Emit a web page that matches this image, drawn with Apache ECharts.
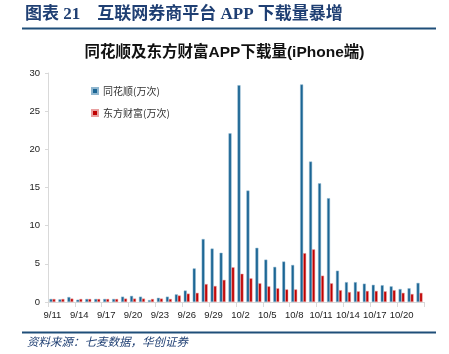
<!DOCTYPE html>
<html>
<head>
<meta charset="utf-8">
<script src="https://cdn.jsdelivr.net/npm/echarts@6/dist/echarts.min.js"></script>
<style>
  html, body { margin: 0; padding: 0; background: #fff; }
  #chart { width: 449px; height: 354px; }
</style>
</head>
<body>
<div id="chart"></div>
<script>
// 日期 9/11 - 10/22
var dates = ['9/11', '9/12', '9/13', '9/14', '9/15', '9/16', '9/17', '9/18', '9/19', '9/20',
    '9/21', '9/22', '9/23', '9/24', '9/25', '9/26', '9/27', '9/28', '9/29', '9/30',
    '10/1', '10/2', '10/3', '10/4', '10/5', '10/6', '10/7', '10/8', '10/9', '10/10',
    '10/11', '10/12', '10/13', '10/14', '10/15', '10/16', '10/17', '10/18', '10/19', '10/20',
    '10/21', '10/22'];

// 同花顺(万次)
var thsData = [0.4, 0.35, 0.65, 0.3, 0.4, 0.4, 0.4, 0.4, 0.7, 0.8,
    0.7, 0.25, 0.55, 0.7, 1.0, 1.5, 4.4, 8.25, 7.0, 6.45,
    22.1, 28.4, 14.6, 7.1, 5.55, 4.6, 5.3, 4.85, 28.5, 18.4,
    15.55, 13.6, 4.1, 2.6, 2.6, 2.4, 2.25, 2.2, 2.05, 1.7,
    1.8, 2.5];

// 东方财富(万次)
var dfcfData = [0.4, 0.4, 0.45, 0.4, 0.4, 0.4, 0.4, 0.4, 0.45, 0.45,
    0.45, 0.4, 0.45, 0.4, 0.85, 1.1, 1.2, 2.35, 2.1, 2.9,
    4.55, 3.7, 3.1, 2.45, 2.05, 1.8, 1.65, 1.65, 6.4, 6.9,
    3.45, 2.45, 1.55, 1.3, 1.4, 1.45, 1.45, 1.4, 1.55, 1.2,
    1.05, 1.2];

var myChart = echarts.init(document.getElementById('chart'));

var option = {
    animation: false,
    title: [{
        text: '图表 21    互联网券商平台 APP 下载量暴增',
        left: 20,
        top: 1,
        textStyle: {
            fontFamily: '"Liberation Serif", "Noto Sans CJK SC"',
            fontSize: 17,
            fontWeight: 'bold',
            color: '#1F3F73'
        }
    }, {
        text: '同花顺及东方财富APP下载量(iPhone端)',
        left: 'center',
        top: 40,
        textStyle: {
            fontFamily: '"Liberation Sans", "Noto Sans CJK SC"',
            fontSize: 15.5,
            fontWeight: 'bold',
            color: '#111'
        }
    }, {
        text: '资料来源：七麦数据，华创证券',
        left: 22,
        top: 334,
        padding: [2, 5],
        textStyle: {
            fontFamily: '"Noto Sans CJK SC"',
            fontSize: 11.5,
            fontStyle: 'italic',
            fontWeight: 'normal',
            color: '#1F3F73'
        }
    }],
    graphic: [{
        type: 'line',
        shape: { x1: 22, y1: 28.5, x2: 436, y2: 28.5 },
        style: { stroke: '#1F4E79', lineWidth: 2 }
    }, {
        type: 'line',
        shape: { x1: 22, y1: 332.5, x2: 436, y2: 332.5 },
        style: { stroke: '#1F4E79', lineWidth: 2 }
    }],
    legend: {
        orient: 'vertical',
        left: 86,
        top: 81,
        itemWidth: 6,
        itemHeight: 6,
        itemGap: 12,
        icon: 'rect',
        textStyle: {
            fontFamily: '"Noto Sans CJK SC"',
            fontSize: 10,
            color: '#333'
        },
        data: ['同花顺(万次)', '东方财富(万次)']
    },
    grid: {
        left: 48,
        right: 25,
        top: 73,
        bottom: 52
    },
    xAxis: {
        type: 'category',
        data: dates,
        axisLine: { lineStyle: { color: '#d9d9d9' } },
        axisTick: { show: true, interval: 2, alignWithLabel: false, lineStyle: { color: '#d9d9d9' } },
        axisLabel: {
            interval: 2,
            fontFamily: '"Liberation Sans", Arial',
            fontSize: 9.5,
            color: '#222',
            margin: 8
        }
    },
    yAxis: {
        type: 'value',
        min: 0,
        max: 30,
        interval: 5,
        splitLine: { show: false },
        axisLine: { show: true, lineStyle: { color: '#d9d9d9' } },
        axisTick: { show: true, length: 3, lineStyle: { color: '#d9d9d9' } },
        axisLabel: {
            fontFamily: '"Liberation Sans", Arial',
            fontSize: 9.5,
            color: '#222',
            margin: 8
        }
    },
    series: [{
        name: '同花顺(万次)',
        type: 'bar',
        data: thsData,
        barWidth: 3,
        barGap: '0%',
        itemStyle: { color: '#1B6594', borderColor: '#8FB6CF', borderWidth: 0.5 }
    }, {
        name: '东方财富(万次)',
        type: 'bar',
        data: dfcfData,
        barWidth: 3,
        barGap: '0%',
        itemStyle: { color: '#C00000', borderColor: '#E8A0A0', borderWidth: 0.5 }
    }]
};

myChart.setOption(option);
</script>
</body>
</html>
